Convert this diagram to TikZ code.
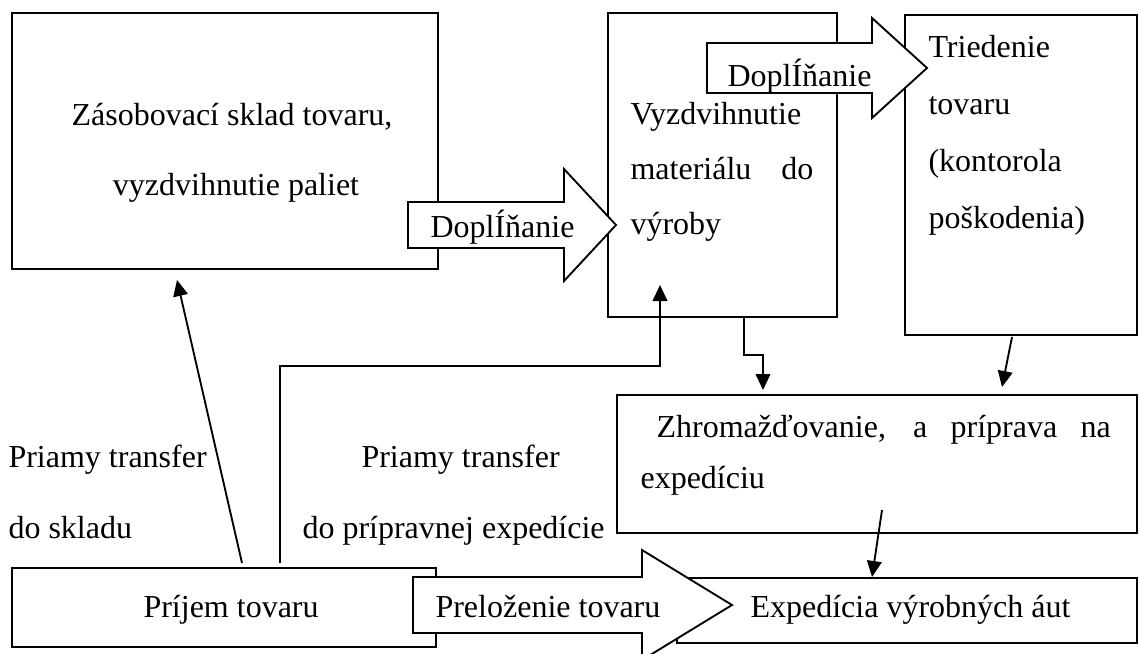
\documentclass[tikz,border=0pt]{standalone}
\usepackage{fontspec}
\setmainfont{Liberation Serif}
\usetikzlibrary{arrows.meta,fit}

% Block arrow: left x, head x, tip x, middle y, body half, head half
\newcommand{\blockarrow}[6]{%
  \draw[blockarrow]
    (#1,{#4-#5}) -- (#2,{#4-#5}) -- (#2,{#4-#6}) -- (#3,#4)
    -- (#2,{#4+#6}) -- (#2,{#4+#5}) -- (#1,{#4+#5}) -- cycle;}

\begin{document}
\begin{tikzpicture}[x=0.375pt,y=-0.375pt]

\tikzset{
  box/.style={
    draw,
    line width=0.7pt,
    inner sep=0pt,
    fit={#1}
  },
  blockarrow/.style={
    draw,
    fill=white,
    line width=0.7pt,
    line join=miter
  },
  txt/.style={
    anchor=base west,
    inner sep=0pt,
    font=\fontsize{12pt}{14pt}\selectfont
  },
  ctxt/.style={
    txt,
    anchor=base
  },
  link/.style={
    line width=0.7pt,
    -{Triangle[length=6pt,width=5.5pt]}
  }
}

% Page frame
\useasboundingbox (0,0) rectangle (1140,653);

%% Boxes
\node[box={(12,13) (438,269)}] (sklad) {};
\node[box={(608,13) (837,317)}] (vyroba) {};
\node[box={(905,15) (1137,335)}] (triedenie) {};
\node[box={(617,395) (1137,533)}] (zhrom) {};
\node[box={(677,578) (1137,643)}] (expedicia) {};
\node[box={(12,568) (436,647)}] (prijem) {};

%% Block arrows (drawn over the boxes)
\blockarrow{408}{564}{616}{225}{23}{56}
\blockarrow{707}{872}{927}{68}{25}{50}
\blockarrow{413}{642}{732}{605}{28}{55}

%% Texts in the boxes
\node[ctxt] (skladA) at (232,125) {Zásobovací sklad tovaru,};
\node[ctxt] (skladB) at (236,195) {vyzdvihnutie paliet};

\node[txt] (vyrobaA) at (630,124) {Vyzdvihnutie};
\node[txt] (vyrobaB) at (630,179) {\makebox[68.6pt][s]{materiálu do}};
\node[txt] (vyrobaC) at (630,234) {výroby};

\node[txt] (triedA) at (928,57) {Triedenie};
\node[txt] (triedB) at (928,114) {tovaru};
\node[txt] (triedC) at (928,171) {(kontorola};
\node[txt] (triedD) at (928,228) {poškodenia)};

\node[txt] (zhromA) at (656,437)
  {\makebox[170.3pt][s]{Zhromažďovanie, a príprava na}};
\node[txt] (zhromB) at (640,488) {expedíciu};

\node[txt] (expedA) at (750,617) {Expedícia výrobných áut};
\node[txt] (prijemA) at (143,617) {Príjem tovaru};

%% Texts in the block arrows
\node[txt] (doplnA) at (430,237) {DoplÍňanie};
\node[txt] (doplnB) at (727,86) {DoplÍňanie};
\node[txt] (prelozA) at (435,617) {Preloženie tovaru};

%% Free labels
\node[txt] (transA) at (8,467) {Priamy transfer};
\node[txt] (transB) at (8,538) {do skladu};
\node[txt] (transC) at (361,467) {Priamy transfer};
\node[txt] (transD) at (302,538) {do prípravnej expedície};

%% Connector ends
\coordinate (c1s) at (242,563);
\coordinate (c1e) at (177,280);
\coordinate (c2s) at (280,563);
\coordinate (c2k) at (660,366);
\coordinate (c2e) at (660,285);
\coordinate (c3s) at (744,318);
\coordinate (c3k) at (763,355);
\coordinate (c3e) at (763,390);
\coordinate (c4s) at (1012,337);
\coordinate (c4e) at (1002,387);
\coordinate (c5s) at (882,510);
\coordinate (c5e) at (872,577);

%% Connectors
\draw[link] (c1s) -- (c1e);
\draw[link] (c2s) |- (c2k) -- (c2e);
\draw[link] (c3s) |- (c3k) -- (c3e);
\draw[link] (c4s) -- (c4e);
\draw[link] (c5s) -- (c5e);

\end{tikzpicture}
\end{document}
